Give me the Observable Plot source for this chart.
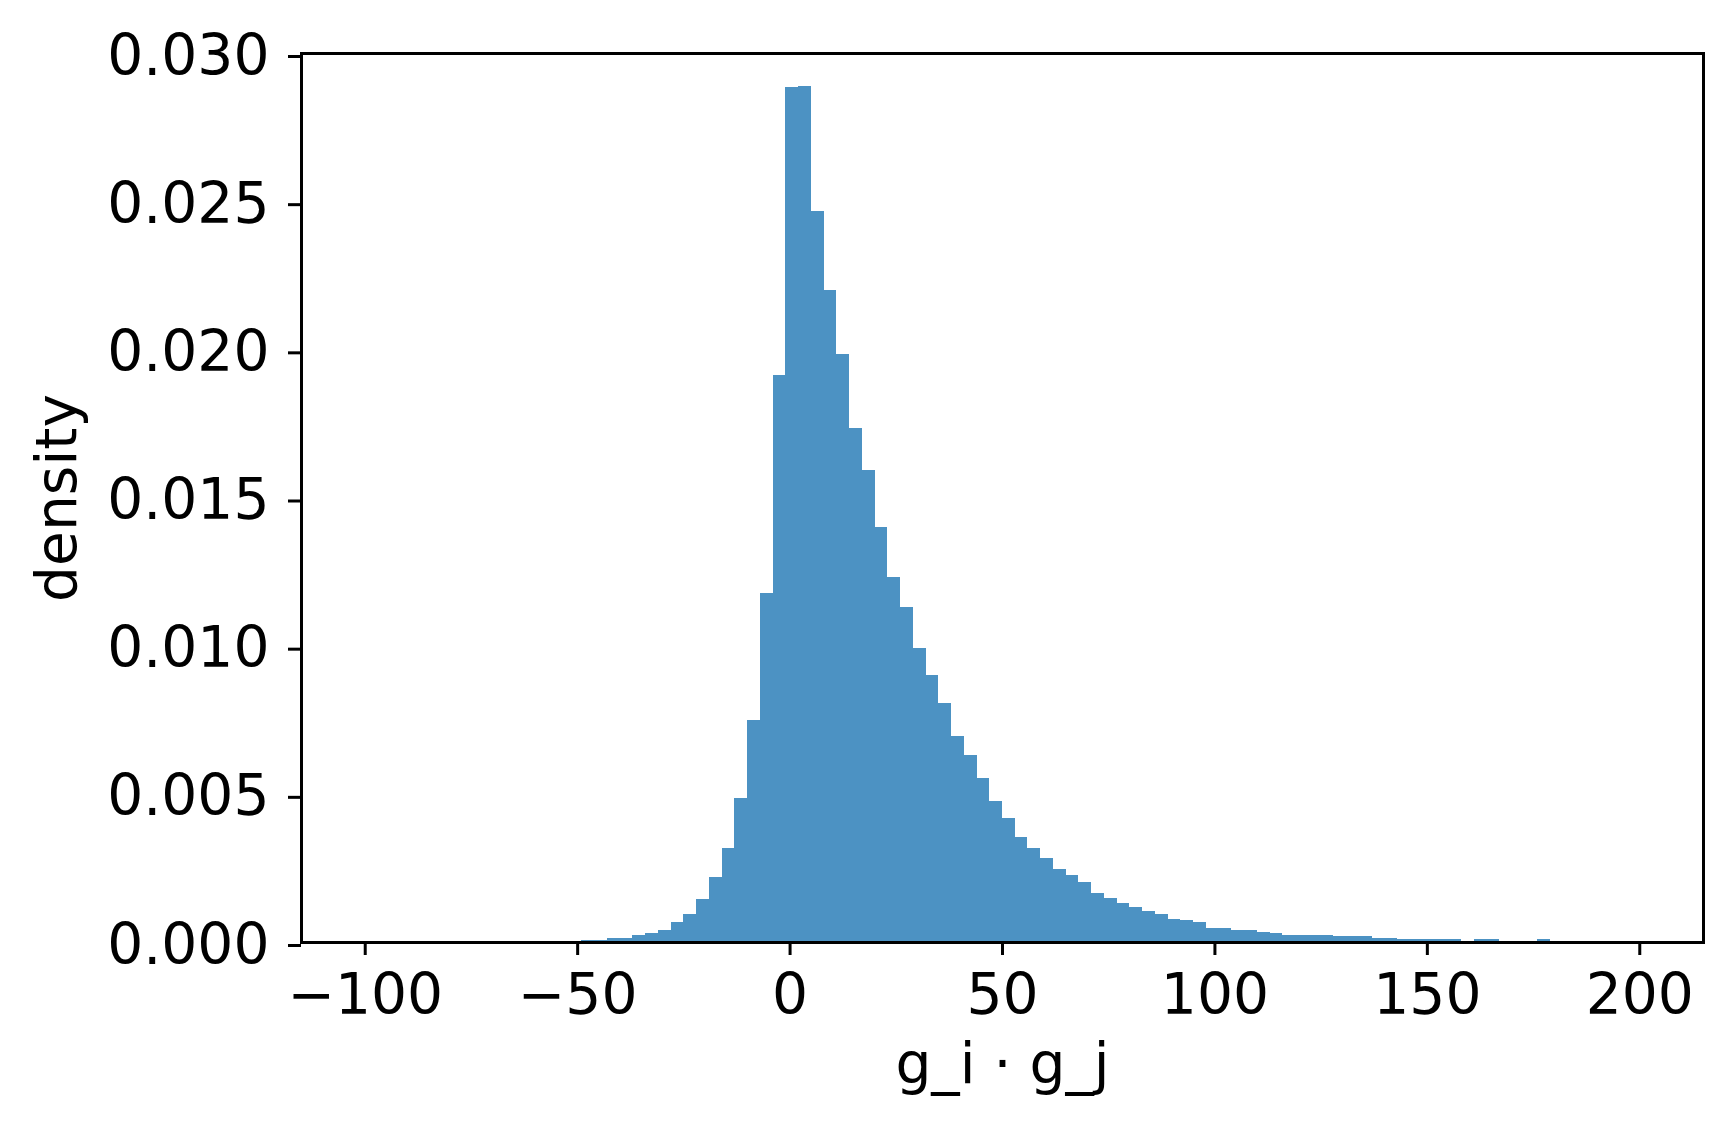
<!DOCTYPE html>
<html>
<head>
<meta charset="utf-8">
<script src="https://cdn.jsdelivr.net/npm/d3@7"></script>
<script src="https://cdn.jsdelivr.net/npm/@observablehq/plot@0.6"></script>
<style>
  html, body { margin: 0; padding: 0; background: #fff; }
  #chart { width: 1734px; height: 1133px; }
</style>
</head>
<body>
<div id="chart"></div>
<script>
// Histogram bins (left edge of each bin, bin width 3, range -100..200, 100 bins)
const binWidth = 3;
const binStart = [
  -52, -49, -46, -43, -40, -37, -34, -31, -28, -25, -22, -19, -16, -13, -10, -7, -4, -1,
  2, 5, 8, 11, 14, 17, 20, 23, 26, 29, 32, 35, 38, 41, 44, 47, 50, 53, 56, 59, 62, 65, 68,
  71, 74, 77, 80, 83, 86, 89, 92, 95, 98, 101, 104, 107, 110, 113, 116, 119, 122, 125,
  128, 131, 134, 137, 140, 143, 146, 149, 152, 155, 158, 161, 164, 167, 170, 173, 176, 179
];
const density = [
  0.00003, 0.00008, 0.00008, 0.00012, 0.00015, 0.00022, 0.00032, 0.00042, 0.00069, 0.00093,
  0.00145, 0.00218, 0.00316, 0.00485, 0.00748, 0.01177, 0.01913, 0.02886,
  0.02889, 0.02467, 0.02200, 0.01984, 0.01734, 0.01593, 0.01400, 0.01231, 0.01130, 0.00991,
  0.00900, 0.00806, 0.00694, 0.00630, 0.00552, 0.00475, 0.00417, 0.00356, 0.00316, 0.00285,
  0.00248, 0.00225, 0.00201,
  0.00167, 0.00147, 0.00130, 0.00117, 0.00106, 0.00096, 0.00079, 0.00073, 0.00066, 0.00046,
  0.00046, 0.00042, 0.00042, 0.00035, 0.00029, 0.00025, 0.00025, 0.00022, 0.00022,
  0.00019, 0.00019, 0.00019, 0.00015, 0.00015, 0.00009, 0.00009, 0.00009, 0.00009, 0.00009,
  0.00003, 0.00009, 0.00009, 0.00003, 0.00003, 0.00003, 0.00009, 0.00002
];
const xTicks = [-100, -50, 0, 50, 100, 150, 200];
const yTicks = [0, 0.005, 0.010, 0.015, 0.020, 0.025, 0.030];
const xLabel = "g_i · g_j";
const yLabel = "density";

const bins = binStart.map((s, i) => ({x1: s, x2: s + binWidth, y: density[i]}));

const chart = Plot.plot({
  width: 1734,
  height: 1133,
  marginLeft: 301,
  marginRight: 31,
  marginTop: 53,
  marginBottom: 191,
  style: {fontFamily: "DejaVu Sans", fontSize: "56.7px", color: "black", background: "white"},
  x: {domain: [-115, 215]},
  y: {domain: [0, 0.03]},
  marks: [
    Plot.rectY(bins, {x1: "x1", x2: "x2", y: "y", fill: "#1f77b4", fillOpacity: 0.8, shapeRendering: "crispEdges"}),
    Plot.frame({stroke: "black", strokeWidth: 3}),
    Plot.axisX({
      ticks: xTicks, tickSize: 13, tickPadding: 18, strokeWidth: 3,
      tickFormat: d3.format(""), label: xLabel, labelArrow: "none", labelAnchor: "center", labelOffset: 140
    }),
    Plot.axisY({
      ticks: yTicks, tickSize: 13, tickPadding: 19, strokeWidth: 3, dy: 3,
      tickFormat: d3.format(".3f"), label: yLabel, labelArrow: "none", labelAnchor: "center", labelOffset: 266
    })
  ]
});
document.getElementById("chart").appendChild(chart);
</script>
</body>
</html>
